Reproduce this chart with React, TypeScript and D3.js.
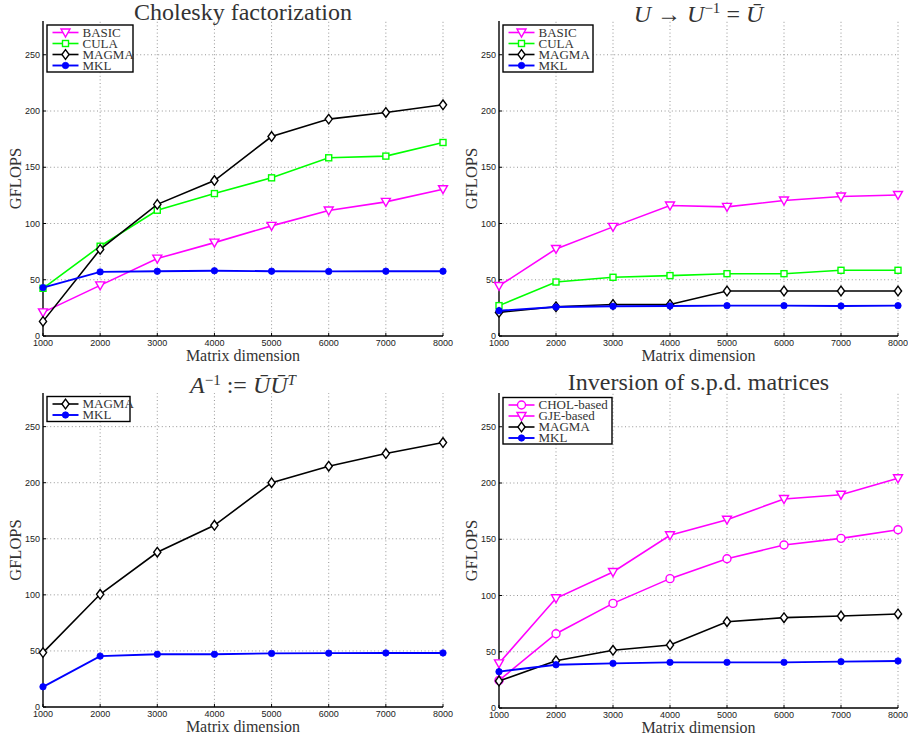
import React from "react";
import * as d3 from "d3";

const dims = [1000, 2000, 3000, 4000, 5000, 6000, 7000, 8000];
const xTicks = [1000, 2000, 3000, 4000, 5000, 6000, 7000, 8000];
const yTicks = [0, 50, 100, 150, 200, 250];

// Cholesky factorization
const cholBasic = [21, 45, 68.8, 83, 97.9, 111.5, 119.2, 130.5];
const cholCula = [42.4, 79.8, 111.8, 126.6, 140.6, 158.4, 159.9, 172];
const cholMagma = [13, 77, 117, 138.2, 177.3, 192.8, 198.7, 205.5];
const cholMkl = [43, 57, 57.5, 58, 57.6, 57.4, 57.6, 57.6];

// U -> U^-1
const triBasic = [44.5, 77.4, 97, 116, 114.8, 120.4, 124, 125.4];
const triCula = [27, 48, 52.2, 53.7, 55.4, 55.4, 58.4, 58.4];
const triMagma = [21, 26, 28, 28, 40, 40, 40, 40];
const triMkl = [22.5, 25.8, 26.4, 26.7, 27, 27, 26.7, 27];

// A^-1 := U U^T
const mulMagma = [48.5, 100.5, 138, 162, 200, 214.7, 226, 235.8];
const mulMkl = [18, 45.4, 47, 47, 47.8, 48, 48.2, 48.2];

// Inversion of s.p.d. matrices
const invChol = [24.5, 66, 93, 115, 132.7, 144.9, 150.8, 158.5];
const invGje = [39.7, 97.5, 120.9, 153.5, 167.4, 185.8, 189.6, 204.2];
const invMagma = [24, 42, 51.3, 56, 76.7, 80.3, 81.8, 83.6];
const invMkl = [32.3, 38.5, 39.7, 40.6, 40.6, 40.6, 41.2, 41.8];

type Marker = "tri" | "square" | "diamond" | "dot" | "circle";
interface Series { name: string; values: number[]; color: string; marker: Marker; width: number; }

const MAG = "#ff00ff", GRN = "#00ff00", BLK = "#000000", BLU = "#0000ff";

interface Panel {
  x0: number; x1: number; yTop: number; yBot: number;
  series: Series[];
  legend: { x: number; y: number; w: number; h: number };
  title: React.ReactNode;
  titleDy: number;
}

const SERIF = "'Liberation Serif', 'DejaVu Serif', serif";
const SANS = "'Liberation Sans', Arial, sans-serif";

function MarkerShape({ m, x, y, color }: { m: Marker; x: number; y: number; color: string }) {
  const sw = 1.4;
  switch (m) {
    case "tri":
      return <path d={`M${x - 4.5},${y - 3.5} L${x + 4.5},${y - 3.5} L${x},${y + 4.5} Z`} fill="white" stroke={color} strokeWidth={sw} />;
    case "square":
      return <rect x={x - 3} y={y - 3} width={6} height={6} fill="white" stroke={color} strokeWidth={sw} />;
    case "diamond":
      return <path d={`M${x},${y - 4.8} L${x + 3.6},${y} L${x},${y + 4.8} L${x - 3.6},${y} Z`} fill="white" stroke={color} strokeWidth={sw} />;
    case "dot":
      return <circle cx={x} cy={y} r={3.2} fill={color} stroke={color} strokeWidth={0.8} />;
    case "circle":
      return <circle cx={x} cy={y} r={4} fill="white" stroke={color} strokeWidth={sw} />;
  }
}

function PanelView({ p }: { p: Panel }) {
  const xs = d3.scaleLinear().domain([1000, 8000]).range([p.x0, p.x1]);
  const ys = d3.scaleLinear().domain([0, 280]).range([p.yBot, p.yTop]);
  const line = d3.line<number>().x((_, i) => xs(dims[i])).y((d) => ys(d));
  const cx = (p.x0 + p.x1) / 2;
  const cy = (p.yTop + p.yBot) / 2;
  return (
    <g>
      {/* grid */}
      {xTicks.slice(1).map((t) => (
        <line key={"gx" + t} x1={xs(t)} x2={xs(t)} y1={p.yBot} y2={p.yTop} stroke="#8a8a8a" strokeWidth={0.9} strokeDasharray="1,2.6" />
      ))}
      {yTicks.slice(1).map((t) => (
        <line key={"gy" + t} x1={p.x0} x2={p.x1} y1={ys(t)} y2={ys(t)} stroke="#8a8a8a" strokeWidth={0.9} strokeDasharray="1,2.6" />
      ))}
      {/* axes */}
      <line x1={p.x0} x2={p.x0} y1={p.yBot} y2={p.yTop} stroke="#000" strokeWidth={1.4} />
      <line x1={p.x0} x2={p.x1} y1={p.yBot} y2={p.yBot} stroke="#000" strokeWidth={1.4} />
      {xTicks.map((t) => (
        <g key={"xt" + t}>
          <line x1={xs(t)} x2={xs(t)} y1={p.yBot} y2={p.yBot - 3} stroke="#000" strokeWidth={1} />
          <text x={xs(t)} y={p.yBot + 10} fontFamily={SANS} fontSize={9} textAnchor="middle" fill="#222">{t}</text>
        </g>
      ))}
      {yTicks.map((t) => (
        <g key={"yt" + t}>
          <line x1={p.x0} x2={p.x0 + 3} y1={ys(t)} y2={ys(t)} stroke="#000" strokeWidth={1} />
          <text x={p.x0 - 3} y={ys(t) + (t === 0 ? 2.5 : 3.2)} fontFamily={SANS} fontSize={9} textAnchor="end" fill="#222">{t}</text>
        </g>
      ))}
      <text x={cx} y={p.yBot + 25} fontFamily={SERIF} fontSize={16} textAnchor="middle" fill="#333">Matrix dimension</text>
      <text transform={`translate(${p.x0 - 22},${cy}) rotate(-90)`} fontFamily={SERIF} fontSize={16.5} textAnchor="middle" fill="#333">GFLOPS</text>
      {/* series */}
      {p.series.map((s) => (
        <g key={s.name}>
          <path d={line(s.values) || ""} fill="none" stroke={s.color} strokeWidth={s.width} />
          {s.values.map((v, i) => (
            <MarkerShape key={i} m={s.marker} x={xs(dims[i])} y={ys(v)} color={s.color} />
          ))}
        </g>
      ))}
      {/* legend */}
      <rect x={p.legend.x} y={p.legend.y} width={p.legend.w} height={p.legend.h} fill="white" stroke="#000" strokeWidth={1.4} />
      {p.series.map((s, i) => {
        const ly = p.legend.y + 7.5 + i * 11;
        const lx = p.legend.x + 5.5;
        return (
          <g key={"lg" + s.name}>
            <line x1={lx} x2={lx + 26} y1={ly} y2={ly} stroke={s.color} strokeWidth={s.width} />
            <MarkerShape m={s.marker} x={lx + 13} y={ly} color={s.color} />
            <text x={lx + 30} y={ly + 4.3} fontFamily={SERIF} fontSize={13} fill="#333">{s.name}</text>
          </g>
        );
      })}
      <text x={cx} y={p.yTop + p.titleDy} fontFamily={SERIF} fontSize={24} textAnchor="middle" fill="#333">{p.title}</text>
    </g>
  );
}

const panels: Panel[] = [
  {
    x0: 43, x1: 443, yTop: 21, yBot: 336,
    series: [
      { name: "BASIC", values: cholBasic, color: MAG, marker: "tri", width: 1.6 },
      { name: "CULA", values: cholCula, color: GRN, marker: "square", width: 1.6 },
      { name: "MAGMA", values: cholMagma, color: BLK, marker: "diamond", width: 1.6 },
      { name: "MKL", values: cholMkl, color: BLU, marker: "dot", width: 1.9 },
    ],
    legend: { x: 47, y: 25, w: 86, h: 47 },
    title: "Cholesky factorization",
    titleDy: -1.5,
  },
  {
    x0: 499, x1: 898, yTop: 21, yBot: 336,
    series: [
      { name: "BASIC", values: triBasic, color: MAG, marker: "tri", width: 1.6 },
      { name: "CULA", values: triCula, color: GRN, marker: "square", width: 1.6 },
      { name: "MAGMA", values: triMagma, color: BLK, marker: "diamond", width: 1.6 },
      { name: "MKL", values: triMkl, color: BLU, marker: "dot", width: 1.9 },
    ],
    legend: { x: 503, y: 25, w: 90, h: 47 },
    title: (
      <>
        <tspan fontStyle="italic">U</tspan>
        <tspan> → </tspan>
        <tspan fontStyle="italic">U</tspan>
        <tspan dy={-8.5} fontSize={15}>−1</tspan>
        <tspan dy={8.5}> = </tspan>
        <tspan fontStyle="italic">Ū</tspan>
      </>
    ),
    titleDy: 0.5,
  },
  {
    x0: 43, x1: 443, yTop: 393, yBot: 707,
    series: [
      { name: "MAGMA", values: mulMagma, color: BLK, marker: "diamond", width: 1.6 },
      { name: "MKL", values: mulMkl, color: BLU, marker: "dot", width: 1.9 },
    ],
    legend: { x: 47, y: 396.5, w: 83, h: 25 },
    title: (
      <>
        <tspan fontStyle="italic">A</tspan>
        <tspan dy={-8.5} fontSize={15}>−1</tspan>
        <tspan dy={8.5}> := </tspan>
        <tspan fontStyle="italic">ŪŪ</tspan>
        <tspan dy={-8.5} fontSize={15} fontStyle="italic">T</tspan>
      </>
    ),
    titleDy: 0,
  },
  {
    x0: 499, x1: 898, yTop: 393, yBot: 708,
    series: [
      { name: "CHOL-based", values: invChol, color: MAG, marker: "circle", width: 1.6 },
      { name: "GJE-based", values: invGje, color: MAG, marker: "tri", width: 1.6 },
      { name: "MAGMA", values: invMagma, color: BLK, marker: "diamond", width: 1.6 },
      { name: "MKL", values: invMkl, color: BLU, marker: "dot", width: 1.9 },
    ],
    legend: { x: 503, y: 397.5, w: 109, h: 46.5 },
    title: "Inversion of s.p.d. matrices",
    titleDy: -3,
  },
];

export default function App() {
  return (
    <svg width={908} height={739} style={{ position: "absolute", left: 0, top: 0, background: "white" }}>
      <rect width={908} height={739} fill="white" />
      {panels.map((p, i) => (
        <PanelView key={i} p={p} />
      ))}
    </svg>
  );
}
